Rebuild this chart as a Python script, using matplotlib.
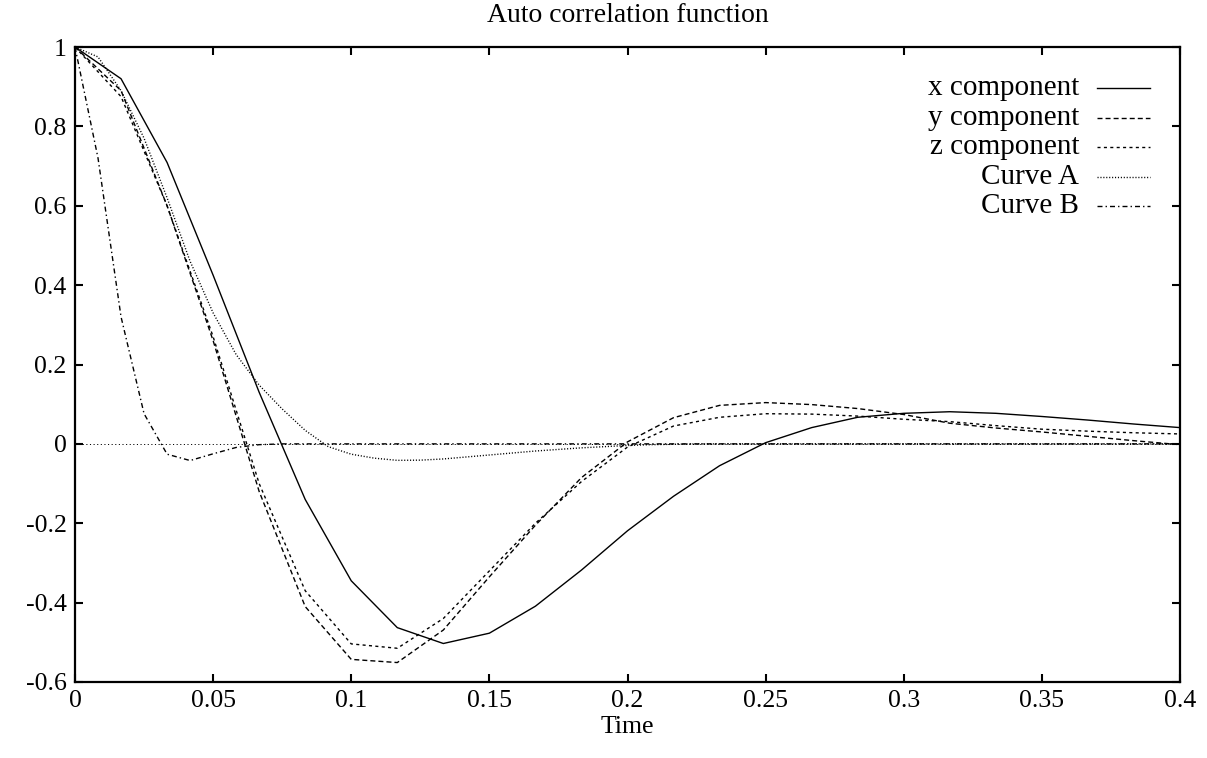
import numpy as np
import matplotlib
matplotlib.use("Agg")
import matplotlib.pyplot as plt

plt.rcParams['font.family'] = ['Liberation Serif', 'DejaVu Serif']
plt.rcParams['lines.scale_dashes'] = False

# ---- data ----
t_xyz = np.arange(25) / 60.0
x_comp = [1.0, 0.92, 0.709, 0.425, 0.13, -0.14, -0.345, -0.463, -0.503, -0.477,
          -0.409, -0.318, -0.219, -0.132, -0.055, 0.003, 0.041, 0.067, 0.077, 0.081,
          0.077, 0.069, 0.060, 0.050, 0.041]
y_comp = [1.0, 0.89, 0.60, 0.26, -0.12, -0.41, -0.543, -0.551, -0.469, -0.335,
          -0.205, -0.085, 0.005, 0.066, 0.097, 0.104, 0.099, 0.089, 0.074, 0.052,
          0.040, 0.030, 0.019, 0.008, -0.002]
z_comp = [1.0, 0.875, 0.60, 0.27, -0.10, -0.37, -0.504, -0.515, -0.44, -0.32,
          -0.20, -0.095, -0.008, 0.045, 0.067, 0.076, 0.075, 0.070, 0.062, 0.056,
          0.046, 0.037, 0.032, 0.028, 0.025]

t_ab = np.arange(49) / 120.0
curve_a = [1.0, 0.975, 0.89, 0.77, 0.62, 0.46, 0.33, 0.225, 0.148, 0.088,
           0.034, -0.007, -0.026, -0.036, -0.0415, -0.041, -0.038, -0.033, -0.028, -0.023,
           -0.018, -0.014, -0.010, -0.007, -0.004, -0.002, -0.001] + [0.0] * 22
curve_b = [1.0, 0.72, 0.32, 0.076, -0.026, -0.042, -0.025, -0.009, -0.002] + [0.0] * 40

labels = ["x component", "y component", "z component", "Curve A", "Curve B"]
x_ticks = [0, 0.05, 0.1, 0.15, 0.2, 0.25, 0.3, 0.35, 0.4]
x_ticklabels = ["0", "0.05", "0.1", "0.15", "0.2", "0.25", "0.3", "0.35", "0.4"]
y_ticks = [-0.6, -0.4, -0.2, 0, 0.2, 0.4, 0.6, 0.8, 1]
y_ticklabels = ["-0.6", "-0.4", "-0.2", "0", "0.2", "0.4", "0.6", "0.8", "1"]
title = "Auto correlation function"
xlabel = "Time"

# ---- figure ----
W, H = 1207, 758
fig = plt.figure(figsize=(W / 100, H / 100), dpi=100)
L, R, T, B = 75, 1180, 47, 682
ax = fig.add_axes([L / W, 1 - B / H, (R - L) / W, (B - T) / H])

FS_TICK = 18.5
FS_TEXT = 21
lw = 1.0
styles = [
    dict(linestyle='-'),
    dict(dashes=(3.6, 2.2)),
    dict(dashes=(2.2, 2.4)),
    dict(dashes=(0.8, 1.3)),
    dict(dashes=(3.6, 2.2, 1.0, 2.2)),
]
series = [(t_xyz, x_comp), (t_xyz, y_comp), (t_xyz, z_comp), (t_ab, curve_a), (t_ab, curve_b)]

# zero axis (gnuplot style dotted)
ax.axhline(0, color='black', lw=0.7, dashes=(0.8, 1.8), zorder=1)

for (tt, vv), st in zip(series, styles):
    ax.plot(tt, vv, color='black', lw=lw, **st, zorder=2)

ax.set_xlim(0, 0.4)
ax.set_ylim(-0.6, 1.0)
ax.set_xticks(x_ticks)
ax.set_xticklabels(x_ticklabels)
ax.set_yticks(y_ticks)
ax.set_yticklabels(y_ticklabels)
ax.tick_params(direction='in', length=6, width=1.5, top=True, right=True,
               labelsize=FS_TICK)
ax.tick_params(axis='x', pad=6)
ax.tick_params(axis='y', pad=6)
for s in ax.spines.values():
    s.set_linewidth(1.6)

ax.text(0.5, 1 + (T - 15) / (B - T), title, transform=ax.transAxes,
        ha='center', va='center', fontsize=20)
ax.set_xlabel(xlabel, fontsize=FS_TICK)
ax.xaxis.label.set_va('center')
ax.xaxis.set_label_coords(0.5, -(727 - B) / (B - T))

# legend (gnuplot style: right-aligned text, sample to the right)
row_y = [88, 118, 147, 177, 206]
text_right = 1079
line_x0, line_x1 = 1097, 1150
for lab, st, ry in zip(labels, styles, row_y):
    yy = 1 - (ry - T) / (B - T)
    ax.text((text_right - L) / (R - L), yy, lab, transform=ax.transAxes,
            ha='right', va='center', fontsize=FS_TEXT)
    ax.plot([(line_x0 - L) / (R - L), (line_x1 - L) / (R - L)], [yy, yy],
            transform=ax.transAxes, color='black', lw=lw, clip_on=False, **st)

fig.savefig("out.png", dpi=100)
